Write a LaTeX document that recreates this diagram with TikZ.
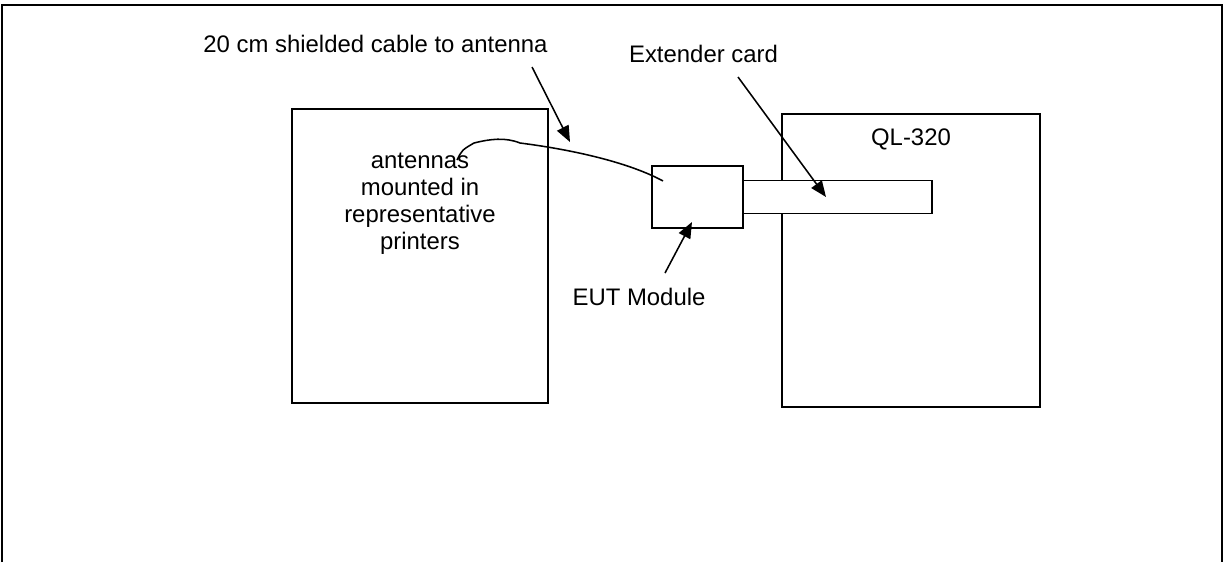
\documentclass[tikz,border=0pt]{standalone}
\usepackage{fontspec}
\setmainfont{Liberation Sans}
\usetikzlibrary{arrows.meta,positioning}

\begin{document}
\begin{tikzpicture}[
    x=0.025cm, y=-0.025cm,
    every node/.style={font=\fontsize{17}{19.2}\selectfont},
    box/.style={draw, line width=1.4pt, inner sep=0pt, outer sep=0pt},
    tag/.style={inner sep=0pt, align=center},
    pointer/.style={-{Triangle[length=4mm, width=3.2mm]}, line width=1.1pt},
    cable/.style={line width=1.1pt}
]
\useasboundingbox (0,0) rectangle (1225,562);
\draw[line width=2.1pt] (2,562) |- (1222,5) -- (1222,562);

\node[box, minimum width=6.4cm, minimum height=7.35cm] (printer) at (420,256) {};
\node[box, minimum width=6.45cm, minimum height=7.325cm] (ql) at (911,260.5) {};
\node[box, minimum width=2.275cm, minimum height=1.55cm] (eut) at (697.5,197) {};
\node[box, fill=white, minimum width=4.725cm, minimum height=0.825cm, right=0pt of eut] (card) {};

\node[tag, below=1.1cm of printer.north] (antennas) {antennas\\mounted in\\representative\\printers};
\node[tag, below=0.36cm of ql.north] (qlname) {QL-320};
\node[tag, anchor=base] (cablename) at (375.5,52) {20 cm shielded cable to antenna};
\node[tag, anchor=base] (cardname) at (703.5,62) {Extender card};
\node[tag, anchor=base] (eutname) at (639,305) {EUT Module};

\coordinate (antfeed) at (457,160);
\coordinate (eutfeed) at (663,181);
\coordinate (cabletail) at (532,67);
\coordinate (cablemark) at (570,142);
\coordinate (cardtail) at (738,77);
\coordinate (cardmark) at (826,197);
\coordinate (euttail) at (665,273);
\coordinate (eutmark) at (692,222);

% the wavy cable from the antennas to the module
\draw[cable] (antfeed) .. controls (462,150) .. (474,143)
    .. controls (490,139) and (505,137) .. (520,143)
    .. controls (575,150) and (630,163) .. (eutfeed);

\draw[pointer] (cabletail) -- (cablemark);
\draw[pointer] (cardtail) -- (cardmark);
\draw[pointer] (euttail) -- (eutmark);
\end{tikzpicture}
\end{document}
